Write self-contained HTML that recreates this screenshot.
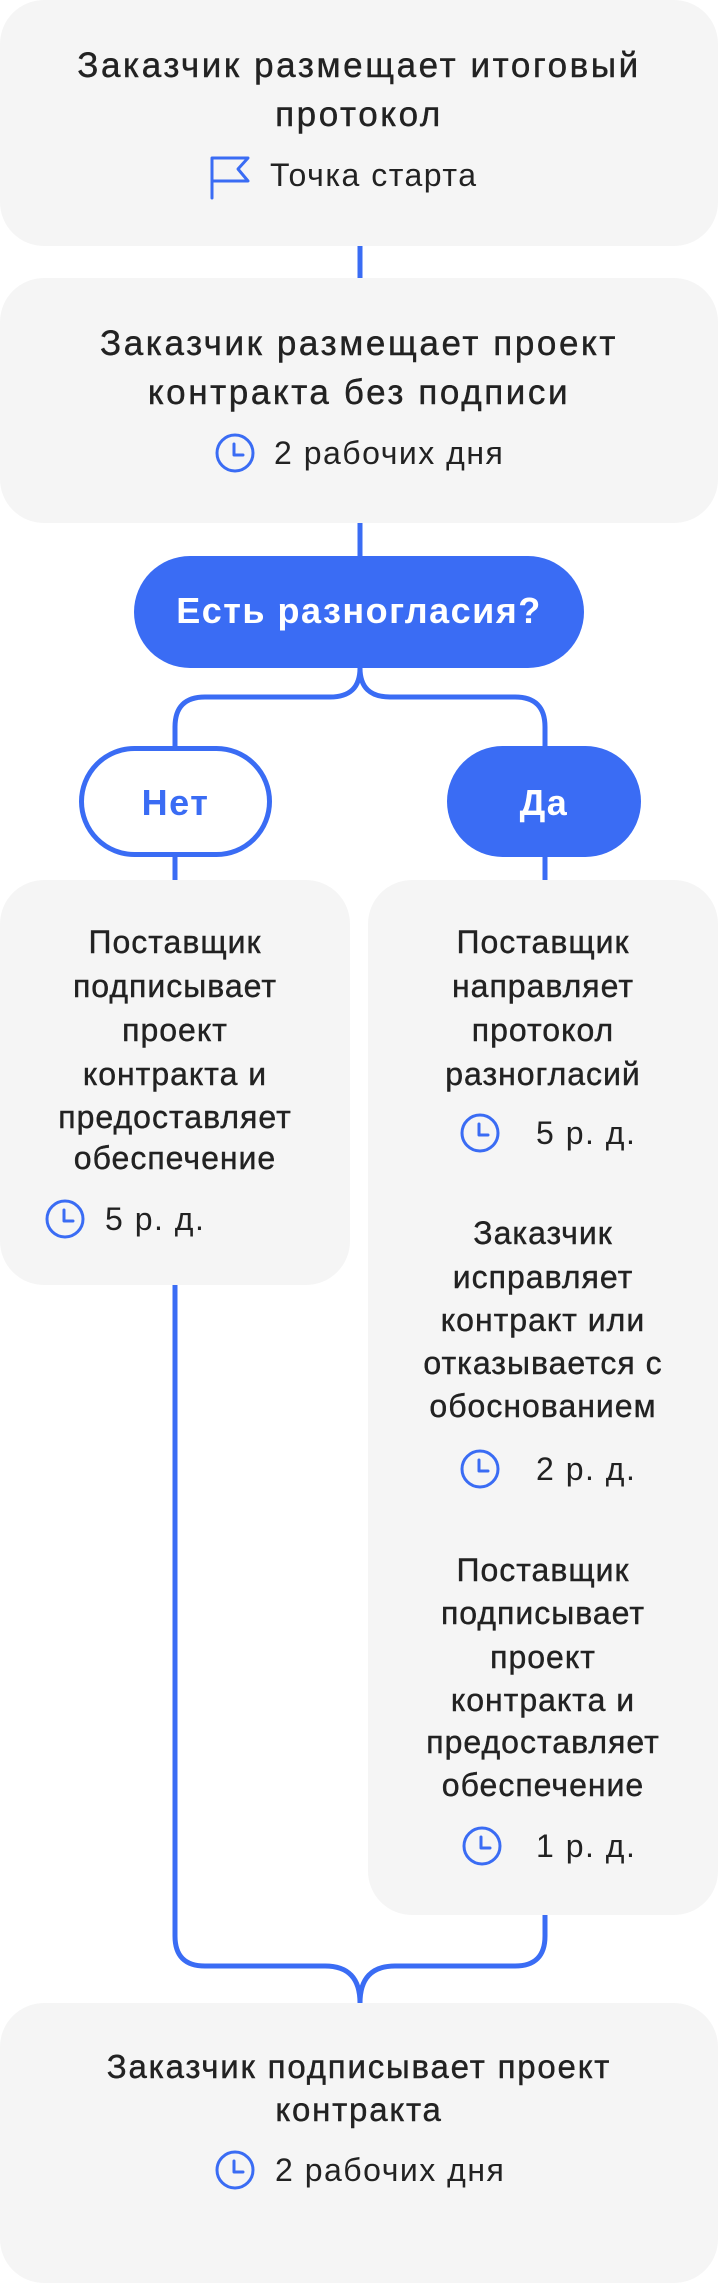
<!DOCTYPE html>
<html><head><meta charset="utf-8"><style>
html,body{margin:0;padding:0;background:#fff;}
body{width:718px;height:2242px;position:relative;overflow:hidden;font-family:"Liberation Sans","DejaVu Sans",sans-serif;}
.box{position:absolute;background:#f5f5f5;border-radius:44px;}
.t{position:absolute;height:40px;line-height:40px;text-align:center;color:#222;font-size:32px;letter-spacing:1px;white-space:nowrap;-webkit-text-stroke:0.4px #222;}
.t1{font-size:35px;letter-spacing:2.6px;}
.t2{font-size:33px;letter-spacing:1.8px;}
.s{position:absolute;height:40px;line-height:40px;color:#222;font-size:32px;white-space:nowrap;letter-spacing:1.5px;}
.w{position:absolute;height:40px;line-height:40px;text-align:center;font-size:36px;font-weight:bold;white-space:nowrap;letter-spacing:1.5px;}
svg{position:absolute;left:0;top:0;}
</style></head><body>
<div class="box" style="left:0;top:0;width:718px;height:246px"></div>
<div class="box" style="left:0;top:278px;width:718px;height:245px"></div>
<div class="box" style="left:0;top:880px;width:350px;height:405px"></div>
<div class="box" style="left:368px;top:880px;width:350px;height:1035px"></div>
<div class="box" style="left:0;top:2003px;width:718px;height:280px"></div>

<svg width="718" height="2242" viewBox="0 0 718 2242" fill="none" stroke="#3a6cf4" stroke-width="5">
<path d="M360 246V278M360 523V556"/>
<rect x="134" y="556" width="450" height="112" rx="56" fill="#3a6cf4" stroke="none"/>
<path d="M360 668Q360 697 330 697H205Q175 697 175 727V746M360 668Q360 697 390 697H515Q545 697 545 727V746"/>
<rect x="81.5" y="748.5" width="188" height="106" rx="53" fill="#fff"/>
<rect x="447" y="746" width="194" height="111" rx="55.5" fill="#3a6cf4" stroke="none"/>
<path d="M175 857V880M545 857V880"/>
<path d="M175 1285V1936Q175 1966 205 1966H325Q360 1966 360 2003M545 1915V1936Q545 1966 515 1966H395Q360 1966 360 2003"/>
<g stroke-width="3" stroke-linecap="round" stroke-linejoin="round">
<path d="M212 198V158H248L238 169L248 181H212"/>
<g transform="translate(235,453)"><circle r="18"/><path d="M-1 -9V2H8"/></g>
<g transform="translate(65,1219)"><circle r="18"/><path d="M-1 -9V2H8"/></g>
<g transform="translate(480,1133)"><circle r="18"/><path d="M-1 -9V2H8"/></g>
<g transform="translate(480,1469)"><circle r="18"/><path d="M-1 -9V2H8"/></g>
<g transform="translate(482,1846)"><circle r="18"/><path d="M-1 -9V2H8"/></g>
<g transform="translate(235,2170)"><circle r="18"/><path d="M-1 -9V2H8"/></g>
</g>
</svg>

<div class="t t1" style="left:0;width:718px;top:46px">Заказчик размещает итоговый</div>
<div class="t t1" style="left:0;width:718px;top:95px">протокол</div>
<div class="s" style="left:270px;top:155px">Точка старта</div>

<div class="t t1" style="left:0;width:718px;top:324px">Заказчик размещает проект</div>
<div class="t t1" style="left:0;width:718px;top:373px">контракта без подписи</div>
<div class="s" style="left:274px;top:433px">2 рабочих дня</div>

<div class="w" style="left:134px;width:450px;top:591px;color:#fff">Есть разногласия?</div>
<div class="w" style="left:79px;width:193px;top:783px;color:#3a6cf4">Нет</div>
<div class="w" style="left:447px;width:194px;top:783px;color:#fff">Да</div>

<div class="t" style="left:0;width:350px;top:922px">Поставщик</div>
<div class="t" style="left:0;width:350px;top:966px">подписывает</div>
<div class="t" style="left:0;width:350px;top:1010px">проект</div>
<div class="t" style="left:0;width:350px;top:1054px">контракта и</div>
<div class="t" style="left:0;width:350px;top:1097px">предоставляет</div>
<div class="t" style="left:0;width:350px;top:1138px">обеспечение</div>
<div class="s" style="left:105px;top:1199px">5 р. д.</div>

<div class="t" style="left:368px;width:350px;top:922px">Поставщик</div>
<div class="t" style="left:368px;width:350px;top:966px">направляет</div>
<div class="t" style="left:368px;width:350px;top:1010px">протокол</div>
<div class="t" style="left:368px;width:350px;top:1054px">разногласий</div>
<div class="s" style="left:536px;top:1113px">5 р. д.</div>

<div class="t" style="left:368px;width:350px;top:1213px">Заказчик</div>
<div class="t" style="left:368px;width:350px;top:1257px">исправляет</div>
<div class="t" style="left:368px;width:350px;top:1300px">контракт или</div>
<div class="t" style="left:368px;width:350px;top:1343px">отказывается с</div>
<div class="t" style="left:368px;width:350px;top:1386px">обоснованием</div>
<div class="s" style="left:536px;top:1449px">2 р. д.</div>

<div class="t" style="left:368px;width:350px;top:1550px">Поставщик</div>
<div class="t" style="left:368px;width:350px;top:1593px">подписывает</div>
<div class="t" style="left:368px;width:350px;top:1637px">проект</div>
<div class="t" style="left:368px;width:350px;top:1680px">контракта и</div>
<div class="t" style="left:368px;width:350px;top:1722px">предоставляет</div>
<div class="t" style="left:368px;width:350px;top:1765px">обеспечение</div>
<div class="s" style="left:536px;top:1826px">1 р. д.</div>

<div class="t t2" style="left:0;width:718px;top:2047px">Заказчик подписывает проект</div>
<div class="t t2" style="left:0;width:718px;top:2090px">контракта</div>
<div class="s" style="left:275px;top:2150px">2 рабочих дня</div>
</body></html>
